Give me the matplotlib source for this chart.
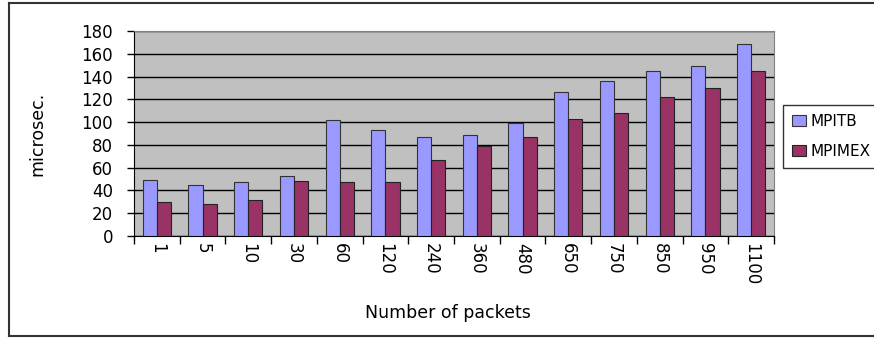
import numpy as np
import matplotlib.pyplot as plt
from matplotlib.lines import Line2D

# packet counts and timings (microseconds)
packets = ['1', '5', '10', '30', '60', '120', '240', '360', '480', '650', '750', '850', '950', '1100']
mpitb = [49, 45, 47, 53, 102, 93, 87, 89, 99, 126, 136, 145, 149, 169]
mpimex = [30, 28, 32, 48, 47, 47, 67, 79, 87, 103, 108, 122, 130, 145]

x = np.arange(len(packets))
w = 0.31

fig = plt.figure(figsize=(8.74, 3.38), dpi=100)
ax = fig.add_axes([0.1533, 0.3018, 0.7323, 0.6065])
ax.set_facecolor('#C0C0C0')

ax.bar(x - w / 2, mpitb, w, color='#9999FF', edgecolor='#333333', linewidth=0.8, label='MPITB', zorder=3)
ax.bar(x + w / 2, mpimex, w, color='#993366', edgecolor='#222222', linewidth=0.8, label='MPIMEX', zorder=3)

ax.set_xlim(-0.5, len(packets) - 0.5)
ax.set_ylim(0, 180)
ax.set_yticks(range(0, 181, 20))
ax.yaxis.grid(True, color='black', linewidth=1.0, zorder=1)

# category boundaries get the tick marks, labels sit in the middle
ax.set_xticks(np.arange(-0.5, len(packets), 1.0))
ax.set_xticklabels([])
ax.set_xticks(x, minor=True)
ax.set_xticklabels(packets, minor=True, rotation=-90, fontsize=12)
ax.tick_params(axis='x', which='major', length=6, width=1, direction='out')
ax.tick_params(axis='x', which='minor', length=0, pad=5)
ax.tick_params(axis='y', length=5, width=1, labelsize=12, pad=10)

ax.spines['left'].set_color('black')
ax.spines['bottom'].set_color('black')
ax.spines['top'].set_color('#808080')
ax.spines['right'].set_color('#808080')

ax.set_ylabel('microsec.', fontsize=12.5)
ax.yaxis.set_label_coords(-0.1375, 0.5)
fig.text(0.513, 0.073, 'Number of packets', fontsize=12.5, ha='center', va='center')

leg = fig.legend(loc='upper left', bbox_to_anchor=(0.8955, 0.6893), fontsize=11,
                 frameon=True, fancybox=False, edgecolor='black', handlelength=0.95,
                 handleheight=0.75, handletextpad=0.3, labelspacing=0.95, borderpad=0.6,
                 borderaxespad=0)
leg.get_frame().set_linewidth(1.0)

# outer frame around the figure
fig.add_artist(Line2D([0.0103, 0.0103], [0.006, 0.991], color='#333333', linewidth=1.5))
fig.add_artist(Line2D([0.0103, 1.0], [0.991, 0.991], color='#333333', linewidth=1.5))
fig.add_artist(Line2D([0.0103, 1.0], [0.006, 0.006], color='#333333', linewidth=1.5))

fig.savefig('out.png', dpi=100)
